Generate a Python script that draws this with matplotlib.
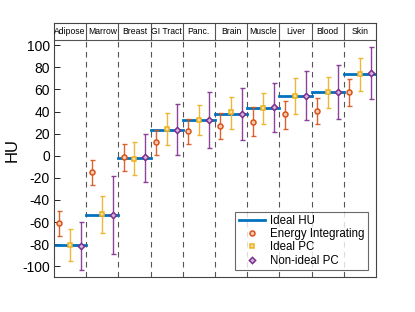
import matplotlib
matplotlib.use("Agg")
import matplotlib.pyplot as plt
import numpy as np

plt.rcParams['font.family'] = ['Liberation Sans', 'DejaVu Sans']

categories = ["Adipose", "Marrow", "Breast", "GI Tract", "Panc.", "Brain", "Muscle", "Liver", "Blood", "Skin"]
ideal_hu = [-81, -54, -2, 23, 32, 38, 43.5, 54, 57.5, 73.5]

ei_mean = [-61, -15, -1, 12.6, 22, 27.3, 30.6, 37.5, 40.8, 57.7]
ei_hi = [-50, -4, 10.5, 23.4, 33.6, 38.4, 43.8, 49.2, 52, 69]
ei_lo = [-73, -26, -13.5, 1, 10.5, 15.3, 17.7, 24.6, 28.8, 45]

ipc_mean = [-80.5, -53, -3, 24.3, 32, 39.3, 43.2, 54, 57.7, 74]
ipc_hi = [-66, -36, 12, 38.7, 45.6, 53.4, 57, 70, 71.5, 88.6]
ipc_lo = [-95, -70, -17, 9.3, 19, 24.6, 29, 38, 43.2, 58.8]

nipc_mean = [-82, -54, -1, 23, 32, 38, 44, 54, 57.4, 75]
nipc_hi = [-59.5, -18.6, 20, 47, 57.4, 61.3, 66, 76.3, 82.3, 98.2]
nipc_lo = [-103, -88.6, -23.7, 0.6, 7, 14.4, 21.3, 32, 33, 51.6]

yticks = [-100, -80, -60, -40, -20, 0, 20, 40, 60, 80, 100]

blue = "#0072BD"
orange = "#D95319"
yellow = "#EDB120"
purple = "#7E2F8E"

fig = plt.figure(figsize=(4.15, 3.12), dpi=100)
ax = fig.add_axes([0.130, 0.111, 0.776, 0.815])

n = len(categories)
x = np.arange(1, n + 1)
ylo, yhi = -110, 120
header = 105

for i in range(n - 1):
    ax.plot([x[i] + 0.5, x[i] + 0.5], [ylo, header], ls=(0, (5, 4)), color="#555555", lw=0.8, zorder=1)
    ax.plot([x[i] + 0.5, x[i] + 0.5], [header, yhi], ls='-', color="#555555", lw=0.8, zorder=1)
ax.axhline(header, color="#555555", lw=0.8, zorder=1)
for xi, c in zip(x, categories):
    ax.text(xi, (header + yhi) / 2, c, ha='center', va='center', fontsize=6.2)

for i in range(n):
    ax.plot([x[i] - 0.5, x[i] + 0.5], [ideal_hu[i], ideal_hu[i]], color=blue, lw=2.0, zorder=2,
            label="Ideal HU" if i == 0 else None)

off = 0.33
def eb(xs, m, hi, lo, color, marker, mfc, ms, label):
    m = np.array(m); hi = np.array(hi); lo = np.array(lo)
    ax.errorbar(xs, m, yerr=[m - lo, hi - m], fmt='none', ecolor=color, elinewidth=1.0,
                capsize=1.8, capthick=1.0, zorder=3, alpha=0.9)
    ax.plot(xs, m, ls='none', marker=marker, ms=ms, mec=color, mfc=mfc, mew=1.1, zorder=4, label=label)

eb(x - off, ei_mean, ei_hi, ei_lo, orange, 'o', '#f7c9b3', 3.6, "Energy Integrating")
eb(x, ipc_mean, ipc_hi, ipc_lo, yellow, 's', '#f8dfa0', 3.4, "Ideal PC")
eb(x + off, nipc_mean, nipc_hi, nipc_lo, purple, 'D', '#d3b6da', 3.2, "Non-ideal PC")

ax.set_xlim(0.5, n + 0.5)
ax.set_ylim(ylo, yhi)
ax.set_xticks([])
ax.set_yticks(yticks)
ax.set_yticklabels([str(t) for t in yticks], fontsize=10)
ax.tick_params(axis='y', direction='in', length=4, width=0.6, pad=3)
for s in ax.spines.values():
    s.set_color("#444444")
    s.set_linewidth(0.8)
ax.set_ylabel("HU", fontsize=12, labelpad=2)

leg = ax.legend(loc='lower right', bbox_to_anchor=(0.975, 0.029), fontsize=8.3, frameon=True,
                fancybox=False, edgecolor="#444444", handlelength=2.3, handletextpad=0.4,
                borderpad=0.3, labelspacing=0.1, borderaxespad=0)
leg.get_frame().set_linewidth(0.8)

fig.savefig("out.png", dpi=100)
